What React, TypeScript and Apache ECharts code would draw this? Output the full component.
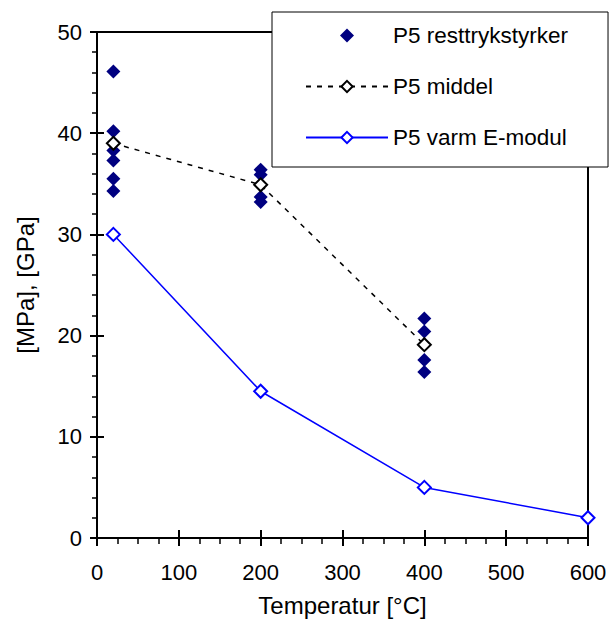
import React, { useEffect, useRef } from "react";
import * as echarts from "echarts";

const strengthX = [20, 20, 20, 20, 20, 20, 200, 200, 200, 200, 400, 400, 400, 400];
const strengthY = [46.1, 40.2, 38.3, 37.3, 35.5, 34.3, 36.4, 35.9, 33.7, 33.2, 21.7, 20.4, 17.6, 16.4];
const meanX = [20, 200, 400];
const meanY = [39.0, 34.9, 19.1];
const modulusX = [20, 200, 400, 600];
const modulusY = [30, 14.5, 5, 2];
const seriesNames = ["P5 resttrykstyrker", "P5 middel", "P5 varm E-modul"];
const xAxisTitle = "Temperatur [°C]";
const yAxisTitle = "[MPa], [GPa]";

const FONT = "'Liberation Sans', Arial, sans-serif";
const LEGEND_DIAMOND = "path://M0,7L0,7M41,0L48,7L41,14L34,7ZM82,7L82,7";

const zip = (xs: number[], ys: number[]) => xs.map((x, i) => [x, ys[i]]);

export default function App() {
  const ref = useRef<HTMLDivElement>(null);
  useEffect(() => {
    document.body.style.margin = "0";
    if (!ref.current) return;
    const chart = echarts.init(ref.current, null, { renderer: "svg" });
    const tickLine = { color: "#000", width: 2 };
    const xBase = { type: "value", min: 0, max: 600, interval: 100, position: "bottom", splitLine: { show: false } };
    const yBase = { type: "value", min: 0, max: 50, interval: 10, position: "left", splitLine: { show: false } };
    chart.setOption({
      animation: false,
      backgroundColor: "#fff",
      textStyle: { fontFamily: FONT, color: "#000" },
      grid: { left: 97, right: 22, top: 32, bottom: 84, show: true, borderColor: "#000", borderWidth: 2, containLabel: false },
      legend: {
        orient: "vertical",
        left: 272,
        top: 12,
        itemWidth: 82,
        itemHeight: 14,
        itemGap: 28,
        padding: [12, 40, 18, 33],
        backgroundColor: "#fff",
        borderColor: "#000",
        borderWidth: 1,
        selectedMode: false,
        textStyle: { fontSize: 22.5, color: "#000", fontFamily: FONT },
        data: [
          { name: seriesNames[0], icon: LEGEND_DIAMOND },
          { name: seriesNames[1] },
          { name: seriesNames[2] },
        ],
        z: 10,
      },
      xAxis: [
        {
          ...xBase,
          name: xAxisTitle,
          nameLocation: "middle",
          nameGap: 55,
          nameTextStyle: { fontSize: 24, color: "#000", fontFamily: FONT },
          axisLine: { show: true, onZero: false, lineStyle: { color: "#000", width: 2 } },
          axisTick: { show: true, inside: false, length: 8, lineStyle: tickLine },
          minorTick: { show: true, splitNumber: 4, length: 6, lineStyle: { color: "#000", width: 1.5 } },
          axisLabel: { fontSize: 22, color: "#000", margin: 23, fontFamily: FONT },
        },
        {
          ...xBase,
          axisLine: { show: false, onZero: false },
          axisTick: { show: true, inside: true, length: 8, lineStyle: tickLine },
          axisLabel: { show: false },
        },
      ],
      yAxis: [
        {
          ...yBase,
          name: yAxisTitle,
          nameLocation: "middle",
          nameGap: 60,
          nameRotate: 90,
          nameTextStyle: { fontSize: 24, color: "#000", fontFamily: FONT },
          axisLine: { show: true, onZero: false, lineStyle: { color: "#000", width: 2 } },
          axisTick: { show: true, inside: false, length: 7, lineStyle: tickLine },
          minorTick: { show: true, splitNumber: 5, length: 5, lineStyle: { color: "#000", width: 1.5 } },
          axisLabel: { fontSize: 22, color: "#000", margin: 15, fontFamily: FONT },
        },
        {
          ...yBase,
          axisLine: { show: false, onZero: false },
          axisTick: { show: true, inside: true, length: 7, lineStyle: tickLine },
          axisLabel: { show: false },
        },
      ],
      series: [
        {
          type: "scatter",
          name: seriesNames[0],
          data: zip(strengthX, strengthY),
          symbol: "diamond",
          symbolSize: 14,
          itemStyle: { color: "#000080", opacity: 1 },
        },
        {
          type: "line",
          name: seriesNames[1],
          data: zip(meanX, meanY),
          symbol: "diamond",
          symbolSize: 13,
          showAllSymbol: true,
          itemStyle: { color: "#fff", borderColor: "#000", borderWidth: 2 },
          lineStyle: { color: "#000", width: 1.5, type: [5, 6] },
        },
        {
          type: "line",
          name: seriesNames[2],
          data: zip(modulusX, modulusY),
          symbol: "diamond",
          symbolSize: 13,
          showAllSymbol: true,
          itemStyle: { color: "#fff", borderColor: "#0000ff", borderWidth: 2 },
          lineStyle: { color: "#0000ff", width: 1.5 },
        },
      ],
    });
    return () => chart.dispose();
  }, []);
  return <div ref={ref} style={{ width: 610, height: 622 }} />;
}
